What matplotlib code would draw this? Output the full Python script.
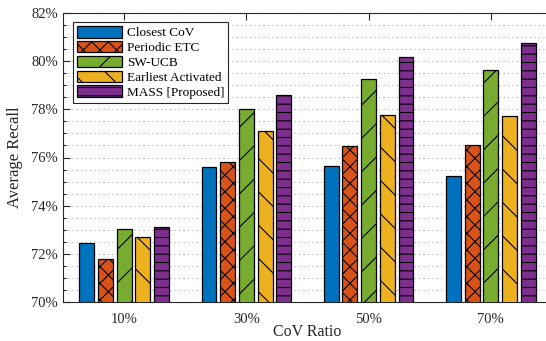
import matplotlib.pyplot as plt
import numpy as np
from matplotlib.ticker import MultipleLocator, FuncFormatter

plt.rcParams['font.family'] = ['Liberation Serif', 'DejaVu Serif']
plt.rcParams['hatch.linewidth'] = 0.8
plt.rcParams['hatch.color'] = 'black'

groups = ['10%', '30%', '50%', '70%']
methods = ['Closest CoV', 'Periodic ETC', 'SW-UCB', 'Earliest Activated', 'MASS [Proposed]']
closest = [72.44, 75.59, 75.65, 75.25]
periodic = [71.77, 75.82, 76.49, 76.53]
swucb = [73.04, 78.03, 79.25, 79.63]
earliest = [72.70, 77.11, 77.78, 77.71]
mass = [73.10, 78.58, 80.17, 80.74]

colors = ['#0072BD', '#D95319', '#77AC30', '#EDB120', '#7E2F8E']
hatches = ['', 'xx', '/', '\\', '--']

fig = plt.figure(figsize=(5.46, 3.41), dpi=100)
ax = fig.add_axes([63 / 546, (341 - 302) / 341, (552 - 63) / 546, 289 / 341])

x = np.arange(1, len(groups) + 1)
pitch = 0.153
width = 0.122
series = [closest, periodic, swucb, earliest, mass]
for i, vals in enumerate(series):
    ax.bar(x + (i - 2) * pitch, vals, width, color=colors[i], hatch=hatches[i],
           edgecolor='black', linewidth=0.9, label=methods[i], zorder=3)

ax.set_xlim(0.5, 4.5)
ax.set_ylim(70, 82)
ax.set_xticks(x)
ax.set_xticklabels(groups)
ax.yaxis.set_major_locator(MultipleLocator(2))
ax.yaxis.set_minor_locator(MultipleLocator(0.5))
ax.yaxis.set_major_formatter(FuncFormatter(lambda v, p: f'{v:.0f}%'))
ax.grid(axis='y', which='both', linestyle=(0, (1, 3)), color='#b0b0b0', linewidth=0.8, zorder=0)
ax.tick_params(which='both', direction='in', top=True, right=False, labelsize=10.5,
               colors='#262626', width=0.8)
ax.tick_params(which='major', length=5)
ax.tick_params(axis='x', pad=8)
ax.tick_params(which='minor', length=2.5)
for s in ax.spines.values():
    s.set_color('#262626')
    s.set_linewidth(0.8)
ax.spines['right'].set_visible(False)

ax.set_ylabel('Average Recall', fontsize=12, color='#262626', labelpad=6)
ax.set_xlabel('CoV Ratio', fontsize=11.5, color='#262626')
ax.xaxis.set_label_coords(0.5, -0.075)

leg = ax.legend(loc='upper left', bbox_to_anchor=(0.02, 0.968), fontsize=9.5,
                fancybox=False, edgecolor='#262626', framealpha=1,
                handlelength=3.4, handleheight=0.95, labelspacing=0.12,
                borderpad=0.3, handletextpad=0.4, borderaxespad=0)
leg.get_frame().set_linewidth(0.8)

fig.savefig('out.png', dpi=100)
